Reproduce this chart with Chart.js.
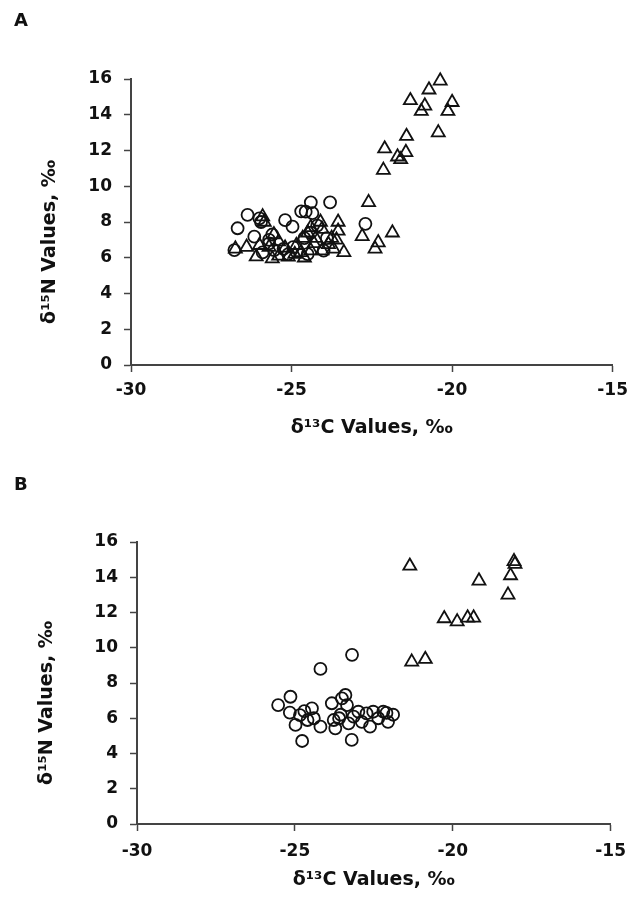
<!DOCTYPE html>
<html>
<head>
<meta charset="utf-8">
<script src="https://cdn.jsdelivr.net/npm/chart.js@4"></script>
<style>
  body { margin: 0; background: #fff; }
  .wrap { position: absolute; left: 0; width: 636px; }
  .tag { position: absolute; left: 14px; font: bold 18px "DejaVu Sans"; color: #111; }
</style>
</head>
<body>
<div class="wrap" style="top:0;height:449px"><canvas id="chartA" width="636" height="449"></canvas></div>
<div class="wrap" style="top:449px;height:450px"><canvas id="chartB" width="636" height="450"></canvas></div>
<div class="tag" style="top:9px">A</div>
<div class="tag" style="top:473px">B</div>
<script>
// panel A
const aCircX = [-26.78, -26.68, -26.37, -26.16, -25.95, -25.2, -24.97, -24.4, -23.8, -24.56, -24.7, -24.35, -22.7, -25.7,
    -25.54, -25.25, -24.95, -25.6, -24.4, -24.6, -24.2, -23.9, -25.1, -24.0, -25.9, -25.7, -26.0, -24.5];
const aCircY = [6.43, 7.65, 8.4, 7.18, 8.0, 8.1, 7.74, 9.1, 9.1, 8.58, 8.6, 8.5, 7.9, 6.8,
    6.43, 6.5, 6.6, 7.3, 7.4, 7.1, 7.8, 7.1, 6.2, 6.4, 6.3, 7.0, 8.2, 6.2];
const aTriX = [-26.75, -26.4, -26.1, -25.9, -25.85, -25.6, -25.4, -25.1, -24.6, -24.7, -24.85, -24.65, -24.5, -24.4,
    -24.1, -24.05, -24.25, -24.05, -23.7, -23.75, -23.55, -23.55, -23.6, -23.37, -23.85, -25.4, -25.55, -25.7,
    -26.0, -25.2, -24.4, -24.3, -22.8, -22.3, -22.4, -21.86, -22.6, -24.9,
    -20.37, -20.72, -21.3, -20.85, -20.96, -20.0, -20.13, -20.43, -21.42, -22.1, -21.7, -21.44, -21.6, -22.14];
const aTriY = [6.5, 6.6, 6.06, 8.3, 8.0, 5.95, 6.1, 6.05, 6.0, 6.3, 6.7, 7.1, 7.4, 7.7,
    8.0, 7.6, 7.1, 6.4, 6.5, 7.1, 8.0, 7.5, 7.0, 6.3, 6.75, 6.9, 7.3, 6.6,
    6.7, 6.55, 6.4, 6.8, 7.2, 6.85, 6.5, 7.4, 9.1, 6.2,
    15.9, 15.4, 14.8, 14.5, 14.2, 14.7, 14.2, 13.0, 12.8, 12.1, 11.65, 11.9, 11.5, 10.9];

// panel B
const bCircX = [-23.19, -24.19, -25.53, -25.14, -25.16, -24.98, -24.77, -24.84, -24.7, -24.46, -24.4, -24.19, -23.83,
    -23.77, -23.72, -23.51, -23.4, -23.35, -23.2, -23.3, -23.14, -22.99, -22.88, -22.73, -22.62, -22.52, -22.36,
    -22.2, -22.1, -22.05, -23.55, -23.6, -24.6, -21.89];
const bCircY = [9.6, 8.8, 6.75, 7.22, 6.32, 5.62, 4.71, 6.18, 6.4, 6.56, 6.0, 5.52, 6.85,
    5.9, 5.43, 7.13, 7.32, 6.75, 4.77, 5.71, 6.09, 6.37, 5.8, 6.28, 5.52, 6.37, 6.0,
    6.37, 6.3, 5.8, 6.2, 6.0, 5.9, 6.2];
const bTriX = [-21.36, -18.06, -18.03, -18.17, -19.17, -18.25, -20.27, -19.86, -19.53, -19.34, -21.3, -20.87];
const bTriY = [14.64, 14.9, 14.75, 14.1, 13.8, 13.0, 11.66, 11.48, 11.7, 11.7, 9.2, 9.35];

const xTicks = [-30, -25, -20, -15];
const yTicks = [0, 2, 4, 6, 8, 10, 12, 14, 16];
const xTitle = 'δ¹³C Values, ‰';
const yTitle = 'δ¹⁵N Values, ‰';

const ink = '#111';
const axisCol = '#444';

function pts(xs, ys) {
    return xs.map((x, i) => ({ x: x, y: ys[i] }));
}

function makeChart(id, circX, circY, triX, triY, lay) {
    const ctx = document.getElementById(id);
    return new Chart(ctx, {
        type: 'scatter',
        data: {
            datasets: [{
                label: 'circles',
                data: pts(circX, circY),
                pointStyle: 'circle',
                pointRadius: 6,
                borderWidth: 1.8,
                borderColor: ink,
                backgroundColor: 'rgba(0,0,0,0)',
                clip: false
            }, {
                label: 'triangles',
                data: pts(triX, triY),
                pointStyle: 'triangle',
                pointRadius: 7.5,
                borderWidth: 1.8,
                borderColor: ink,
                backgroundColor: 'rgba(0,0,0,0)',
                clip: false
            }]
        },
        options: {
            responsive: false,
            animation: false,
            events: [],
            layout: { padding: { top: lay.top, right: lay.right, left: 0, bottom: 0 } },
            plugins: { legend: { display: false }, tooltip: { enabled: false } },
            scales: {
                x: {
                    type: 'linear',
                    min: -30,
                    max: -15,
                    afterBuildTicks: s => { s.ticks = xTicks.map(v => ({ value: v })); },
                    afterFit: s => { s.height = lay.xh; },
                    grid: { drawOnChartArea: false, tickLength: 7, tickColor: axisCol, tickWidth: 1.5 },
                    border: { color: axisCol, width: 2 },
                    ticks: { color: ink, padding: lay.xpad, font: { family: 'DejaVu Sans', size: 17, weight: 'bold' } },
                    title: {
                        display: true,
                        text: xTitle,
                        color: ink,
                        padding: { top: 0, bottom: lay.xtpad },
                        font: { family: 'DejaVu Sans', size: 19, weight: 'bold' }
                    }
                },
                y: {
                    type: 'linear',
                    min: 0,
                    max: 16,
                    afterBuildTicks: s => { s.ticks = yTicks.map(v => ({ value: v })); },
                    afterFit: s => { s.width = lay.yw; },
                    grid: { drawOnChartArea: false, tickLength: 7, tickColor: axisCol, tickWidth: 1.5 },
                    border: { color: axisCol, width: 2 },
                    ticks: { color: ink, padding: 12, font: { family: 'DejaVu Sans', size: 17, weight: 'bold' } },
                    title: {
                        display: true,
                        text: yTitle + '      ',
                        color: ink,
                        padding: { top: lay.ytpad, bottom: 0 },
                        font: { family: 'DejaVu Sans', size: 19, weight: 'bold' }
                    }
                }
            }
        }
    });
}

makeChart('chartA', aCircX, aCircY, aTriX, aTriY,
    { top: 79, right: 21, xh: 84, yw: 131, xpad: 8, xtpad: 10, ytpad: 39 });
makeChart('chartB', bCircX, bCircY, bTriX, bTriY,
    { top: 93, right: 19, xh: 75, yw: 137, xpad: 10, xtpad: 8, ytpad: 36 });
</script>
</body>
</html>
